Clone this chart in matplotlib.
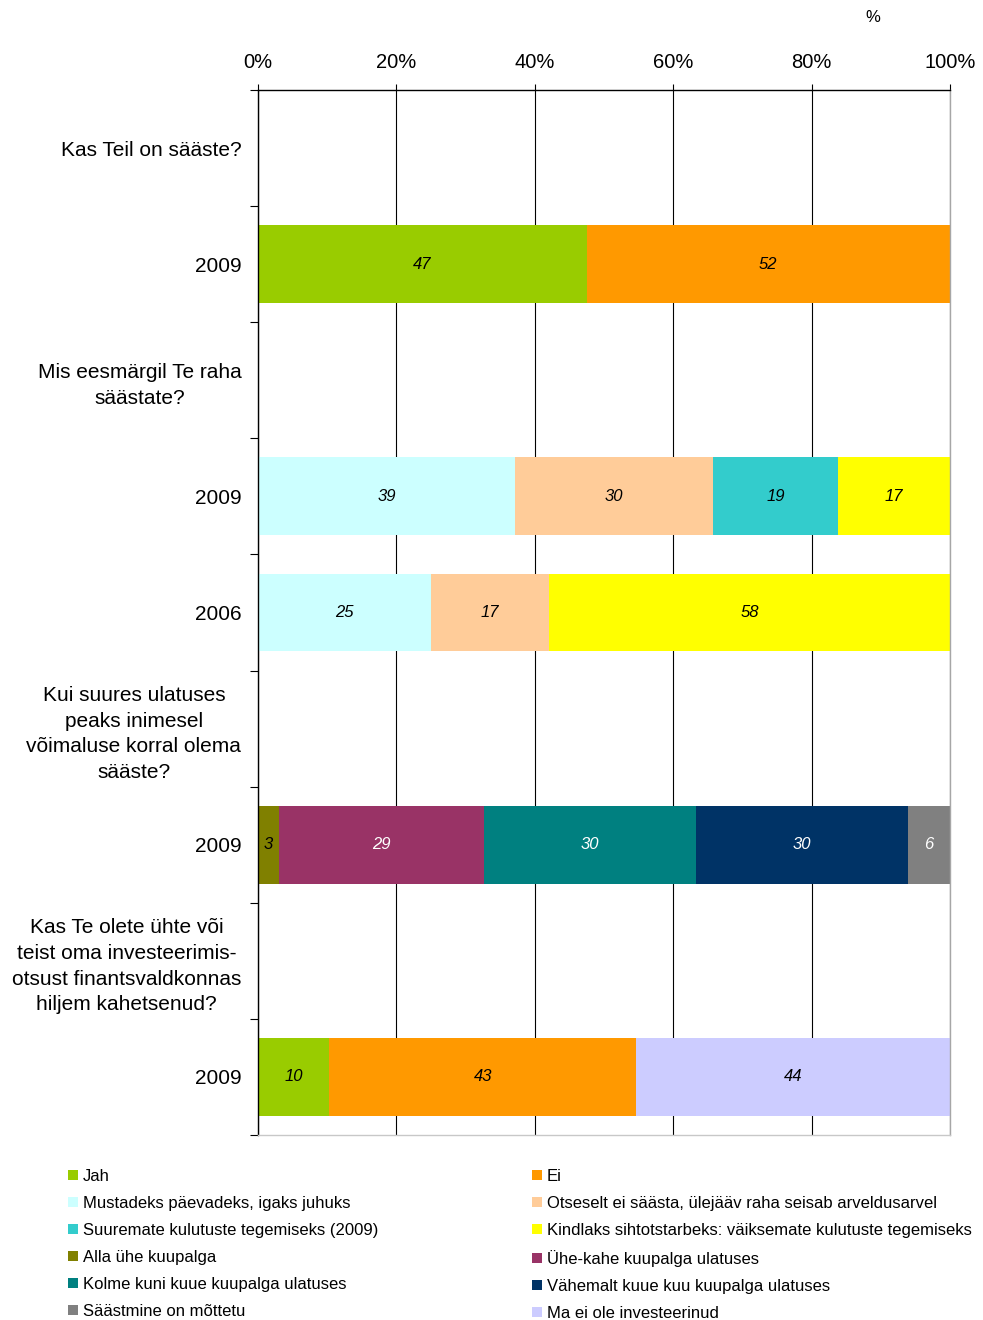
import matplotlib.pyplot as plt
from matplotlib.patches import Patch
from matplotlib.ticker import FixedLocator, PercentFormatter

plt.rcParams["font.family"] = ["Liberation Sans", "DejaVu Sans"]

# rows top to bottom (question headers have no bar)
row_labels = [
    "Kas Teil on sääste?",
    "2009",
    "Mis eesmärgil Te raha\nsäästate?",
    "2009",
    "2006",
    "Kui suures ulatuses\npeaks inimesel\nvõimaluse korral olema\nsääste?",
    "2009",
    "Kas Te olete ühte või\nteist oma investeerimis-\notsust finantsvaldkonnas\nhiljem kahetsenud?",
    "2009",
]

series_names = [
    "Jah",
    "Ei",
    "Mustadeks päevadeks, igaks juhuks",
    "Otseselt ei säästa, ülejääv raha seisab arveldusarvel",
    "Suuremate kulutuste tegemiseks (2009)",
    "Kindlaks sihtotstarbeks: väiksemate kulutuste tegemiseks",
    "Alla ühe kuupalga",
    "Ühe-kahe kuupalga ulatuses",
    "Kolme kuni kuue kuupalga ulatuses",
    "Vähemalt kuue kuu kuupalga ulatuses",
    "Säästmine on mõttetu",
    "Ma ei ole investeerinud",
]
colors = ["#99CC00", "#FF9900", "#CCFFFF", "#FFCC99", "#33CCCC", "#FFFF00",
          "#808000", "#993366", "#008080", "#003366", "#808080", "#CCCCFF"]
text_colors = ["black", "black", "black", "black", "black", "black",
               "black", "white", "white", "white", "white", "black"]

# values per series, one per row (0 = not present)
jah        = [0, 47, 0, 0, 0, 0, 0, 0, 10]
ei         = [0, 52, 0, 0, 0, 0, 0, 0, 43]
mustadeks  = [0, 0, 0, 39, 25, 0, 0, 0, 0]
otseselt   = [0, 0, 0, 30, 17, 0, 0, 0, 0]
suuremate  = [0, 0, 0, 19, 0, 0, 0, 0, 0]
kindlaks   = [0, 0, 0, 17, 58, 0, 0, 0, 0]
alla       = [0, 0, 0, 0, 0, 0, 3, 0, 0]
yhe_kahe   = [0, 0, 0, 0, 0, 0, 29, 0, 0]
kolme      = [0, 0, 0, 0, 0, 0, 30, 0, 0]
vahemalt   = [0, 0, 0, 0, 0, 0, 30, 0, 0]
mottetu    = [0, 0, 0, 0, 0, 0, 6, 0, 0]
ei_invest  = [0, 0, 0, 0, 0, 0, 0, 0, 44]

series = [jah, ei, mustadeks, otseselt, suuremate, kindlaks,
          alla, yhe_kahe, kolme, vahemalt, mottetu, ei_invest]

n = len(row_labels)
totals = [sum(s[i] for s in series) for i in range(n)]

fig = plt.figure(figsize=(9.83, 13.2), dpi=100)
ax = fig.add_axes([0.2625, 0.1402, 0.704, 0.7916])

left = [0.0] * n
for vals, col, tcol in zip(series, colors, text_colors):
    widths = [v / t * 100 if t else 0 for v, t in zip(vals, totals)]
    ax.barh(range(n), widths, left=left, height=0.67, color=col, zorder=2)
    for i, (v, w) in enumerate(zip(vals, widths)):
        if v:
            ax.text(left[i] + w / 2, i, str(v), ha="center", va="center",
                    fontsize=12, style="italic", color=tcol, zorder=3)
    left = [l + w for l, w in zip(left, widths)]

ax.set_xlim(0, 100)
ax.set_ylim(n - 0.5, -0.5)
ax.xaxis.set_ticks_position("top")
ax.xaxis.set_major_locator(FixedLocator([0, 20, 40, 60, 80, 100]))
ax.xaxis.set_major_formatter(PercentFormatter(decimals=0))
ax.tick_params(axis="x", labelsize=14.5, length=4, width=0.8, pad=9, direction="out")
ax.grid(axis="x", color="black", linewidth=0.8, zorder=0)

ax.set_yticks(range(n))
ax.set_yticklabels(row_labels, fontsize=15, linespacing=1.45)
for lab in ax.get_yticklabels():
    lab.set_multialignment("center")
ax.tick_params(axis="y", which="major", length=0, pad=12)
ax.set_yticks([i - 0.5 for i in range(n + 1)], minor=True)
ax.tick_params(axis="y", which="minor", length=6, width=0.8)

ax.spines["left"].set_color("black")
ax.spines["top"].set_color("black")
ax.spines["right"].set_color("#A6A6A6")
ax.spines["bottom"].set_color("#C8C8C8")
for sp in ax.spines.values():
    sp.set_linewidth(1)

fig.text(873 / 983, 1 - 17 / 1320, "%", ha="center", va="center", fontsize=12)

handles = [Patch(facecolor=c, edgecolor="none") for c in colors]
leg_kw = dict(loc="upper left", frameon=False, fontsize=12, borderpad=0,
              handlelength=0.6, handleheight=0.6, handletextpad=0.3,
              labelspacing=0.72, borderaxespad=0)
fig.legend(handles[0::2], series_names[0::2],
           bbox_to_anchor=(68 / 983, 1 - 1169 / 1320), **leg_kw)
fig.legend(handles[1::2], series_names[1::2],
           bbox_to_anchor=(532 / 983, 1 - 1169 / 1320), **leg_kw)

fig.savefig("out.png", dpi=100)
